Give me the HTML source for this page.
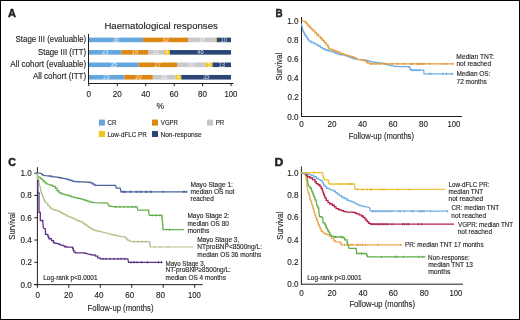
<!DOCTYPE html>
<html><head><meta charset="utf-8"><style>
html,body{margin:0;padding:0;background:#fff;}
body{width:520px;height:320px;overflow:hidden;}
svg{display:block;will-change:transform;}
svg text{font-family:"Liberation Sans", sans-serif;stroke:#231f20;stroke-width:0.14px;paint-order:stroke;}
svg text[fill="#ffffff"]{stroke:none;}
</style></head><body>
<svg width="520" height="320" viewBox="0 0 520 320" fill="#231f20">
<rect x="0" y="0" width="520" height="320" fill="#fff"/>
<text x="8.07" y="16.75" font-size="11.7" textLength="7.98" lengthAdjust="spacingAndGlyphs" font-weight="bold" style="stroke-width:0.5px">A</text>
<text x="104.43" y="29.00" font-size="9.4" textLength="113.40" lengthAdjust="spacingAndGlyphs">Haematological responses</text>
<rect x="88.80" y="37.60" width="54.07" height="4.60" fill="#64a6de"/>
<text x="112.63" y="41.90" font-size="6.8" textLength="6.43" lengthAdjust="spacingAndGlyphs" fill="#ffffff" opacity="0.8">38</text>
<rect x="142.87" y="37.60" width="45.54" height="4.60" fill="#dc8711"/>
<text x="162.46" y="41.90" font-size="6.8" textLength="6.43" lengthAdjust="spacingAndGlyphs" fill="#ffffff" opacity="0.8">32</text>
<rect x="188.41" y="37.60" width="27.04" height="4.60" fill="#c8c8cc"/>
<text x="198.63" y="41.90" font-size="6.8" textLength="6.43" lengthAdjust="spacingAndGlyphs" fill="#ffffff" opacity="0.8">19</text>
<rect x="215.45" y="37.60" width="1.42" height="4.60" fill="#f2c318"/>
<rect x="216.87" y="37.60" width="14.13" height="4.60" fill="#2a4677"/>
<text x="220.61" y="41.90" font-size="6.8" textLength="6.43" lengthAdjust="spacingAndGlyphs" fill="#ffffff" opacity="0.8">10</text>
<rect x="88.80" y="50.05" width="32.73" height="4.60" fill="#64a6de"/>
<text x="101.93" y="54.35" font-size="6.8" textLength="6.43" lengthAdjust="spacingAndGlyphs" fill="#ffffff" opacity="0.8">23</text>
<rect x="121.53" y="50.05" width="27.04" height="4.60" fill="#dc8711"/>
<text x="131.75" y="54.35" font-size="6.8" textLength="6.43" lengthAdjust="spacingAndGlyphs" fill="#ffffff" opacity="0.8">19</text>
<rect x="148.57" y="50.05" width="15.65" height="4.60" fill="#c8c8cc"/>
<text x="153.31" y="54.35" font-size="6.8" textLength="6.00" lengthAdjust="spacingAndGlyphs" fill="#ffffff" opacity="0.8">11</text>
<rect x="164.22" y="50.05" width="5.69" height="4.60" fill="#f2c318"/>
<text x="165.49" y="54.35" font-size="6.8" textLength="3.21" lengthAdjust="spacingAndGlyphs" fill="#ffffff" opacity="0.8">4</text>
<rect x="169.91" y="50.05" width="61.09" height="4.60" fill="#2a4677"/>
<text x="197.31" y="54.35" font-size="6.8" textLength="6.43" lengthAdjust="spacingAndGlyphs" fill="#ffffff" opacity="0.8">46</text>
<rect x="88.80" y="62.50" width="49.80" height="4.60" fill="#64a6de"/>
<text x="110.49" y="66.80" font-size="6.8" textLength="6.43" lengthAdjust="spacingAndGlyphs" fill="#ffffff" opacity="0.8">35</text>
<rect x="138.60" y="62.50" width="38.42" height="4.60" fill="#dc8711"/>
<text x="154.61" y="66.80" font-size="6.8" textLength="6.43" lengthAdjust="spacingAndGlyphs" fill="#ffffff" opacity="0.8">27</text>
<rect x="177.03" y="62.50" width="28.46" height="4.60" fill="#c8c8cc"/>
<text x="188.00" y="66.80" font-size="6.8" textLength="6.43" lengthAdjust="spacingAndGlyphs" fill="#ffffff" opacity="0.8">20</text>
<rect x="205.49" y="62.50" width="7.12" height="4.60" fill="#f2c318"/>
<text x="207.44" y="66.80" font-size="6.8" textLength="3.21" lengthAdjust="spacingAndGlyphs" fill="#ffffff" opacity="0.8">5</text>
<rect x="212.60" y="62.50" width="18.40" height="4.60" fill="#2a4677"/>
<text x="218.49" y="66.80" font-size="6.8" textLength="6.43" lengthAdjust="spacingAndGlyphs" fill="#ffffff" opacity="0.8">13</text>
<rect x="88.80" y="74.95" width="35.58" height="4.60" fill="#64a6de"/>
<text x="103.35" y="79.25" font-size="6.8" textLength="6.43" lengthAdjust="spacingAndGlyphs" fill="#ffffff" opacity="0.8">25</text>
<rect x="124.38" y="74.95" width="28.46" height="4.60" fill="#dc8711"/>
<text x="135.35" y="79.25" font-size="6.8" textLength="6.43" lengthAdjust="spacingAndGlyphs" fill="#ffffff" opacity="0.8">20</text>
<rect x="152.84" y="74.95" width="22.77" height="4.60" fill="#c8c8cc"/>
<text x="160.91" y="79.25" font-size="6.8" textLength="6.43" lengthAdjust="spacingAndGlyphs" fill="#ffffff" opacity="0.8">16</text>
<rect x="175.60" y="74.95" width="5.69" height="4.60" fill="#f2c318"/>
<text x="176.87" y="79.25" font-size="6.8" textLength="3.21" lengthAdjust="spacingAndGlyphs" fill="#ffffff" opacity="0.8">4</text>
<rect x="181.30" y="74.95" width="49.70" height="4.60" fill="#2a4677"/>
<text x="202.94" y="79.25" font-size="6.8" textLength="6.43" lengthAdjust="spacingAndGlyphs" fill="#ffffff" opacity="0.8">35</text>
<text x="15.54" y="42.10" font-size="8.6" textLength="70.67" lengthAdjust="spacingAndGlyphs">Stage III (evaluable)</text>
<text x="38.05" y="54.50" font-size="8.6" textLength="48.14" lengthAdjust="spacingAndGlyphs">Stage III (ITT)</text>
<text x="10.30" y="66.90" font-size="8.6" textLength="75.92" lengthAdjust="spacingAndGlyphs">All cohort (evaluable)</text>
<text x="32.90" y="79.30" font-size="8.6" textLength="53.30" lengthAdjust="spacingAndGlyphs">All cohort (ITT)</text>
<line x1="88.5" y1="34" x2="88.5" y2="84" stroke="#231f20" stroke-width="1"/>
<line x1="88" y1="83.5" x2="233.5" y2="83.5" stroke="#231f20" stroke-width="1"/>
<line x1="88.8" y1="83.5" x2="88.8" y2="86.2" stroke="#231f20" stroke-width="1"/>
<text x="86.53" y="96.50" font-size="9.0" textLength="4.50" lengthAdjust="spacingAndGlyphs">0</text>
<line x1="117.26" y1="83.5" x2="117.26" y2="86.2" stroke="#231f20" stroke-width="1"/>
<text x="112.70" y="96.50" font-size="9.0" textLength="9.01" lengthAdjust="spacingAndGlyphs">20</text>
<line x1="145.72" y1="83.5" x2="145.72" y2="86.2" stroke="#231f20" stroke-width="1"/>
<text x="141.29" y="96.50" font-size="9.0" textLength="9.01" lengthAdjust="spacingAndGlyphs">40</text>
<line x1="174.18" y1="83.5" x2="174.18" y2="86.2" stroke="#231f20" stroke-width="1"/>
<text x="169.62" y="96.50" font-size="9.0" textLength="9.01" lengthAdjust="spacingAndGlyphs">60</text>
<line x1="202.64" y1="83.5" x2="202.64" y2="86.2" stroke="#231f20" stroke-width="1"/>
<text x="198.10" y="96.50" font-size="9.0" textLength="9.01" lengthAdjust="spacingAndGlyphs">80</text>
<line x1="231.1" y1="83.5" x2="231.1" y2="86.2" stroke="#231f20" stroke-width="1"/>
<text x="224.52" y="96.50" font-size="9.0" textLength="12.88" lengthAdjust="spacingAndGlyphs">100</text>
<text x="156.42" y="109.00" font-size="8.5" textLength="7.56" lengthAdjust="spacingAndGlyphs">%</text>
<rect x="98.90" y="119.60" width="6.00" height="6.00" fill="#64a6de"/>
<text x="107.59" y="125.30" font-size="7" textLength="8.91" lengthAdjust="spacingAndGlyphs">CR</text>
<rect x="152.00" y="119.60" width="6.00" height="6.00" fill="#dc8711"/>
<text x="160.87" y="125.30" font-size="7" textLength="17.13" lengthAdjust="spacingAndGlyphs">VGPR</text>
<rect x="207.00" y="119.60" width="6.00" height="6.00" fill="#c8c8cc"/>
<text x="215.81" y="125.30" font-size="7" textLength="8.49" lengthAdjust="spacingAndGlyphs">PR</text>
<rect x="98.90" y="131.00" width="6.00" height="6.00" fill="#f2c318"/>
<text x="107.40" y="136.70" font-size="7" textLength="39.28" lengthAdjust="spacingAndGlyphs">Low-dFLC PR</text>
<rect x="152.00" y="131.00" width="6.00" height="6.00" fill="#2a4677"/>
<text x="160.47" y="136.70" font-size="7" textLength="41.23" lengthAdjust="spacingAndGlyphs">Non-response</text>
<text x="275.51" y="16.55" font-size="11.7" textLength="7.10" lengthAdjust="spacingAndGlyphs" font-weight="bold" style="stroke-width:0.5px">B</text>
<line x1="301.5" y1="17" x2="301.5" y2="117" stroke="#231f20" stroke-width="1"/>
<line x1="301" y1="116.5" x2="462" y2="116.5" stroke="#231f20" stroke-width="1"/>
<text x="287.32" y="119.50" font-size="9.0" textLength="11.26" lengthAdjust="spacingAndGlyphs">0.0</text>
<text x="299.23" y="126.60" font-size="9.0" textLength="4.50" lengthAdjust="spacingAndGlyphs">0</text>
<text x="287.45" y="100.30" font-size="9.0" textLength="11.26" lengthAdjust="spacingAndGlyphs">0.2</text>
<text x="327.44" y="126.60" font-size="9.0" textLength="9.01" lengthAdjust="spacingAndGlyphs">20</text>
<text x="287.28" y="81.10" font-size="9.0" textLength="11.26" lengthAdjust="spacingAndGlyphs">0.4</text>
<text x="358.07" y="126.60" font-size="9.0" textLength="9.01" lengthAdjust="spacingAndGlyphs">40</text>
<text x="287.37" y="61.90" font-size="9.0" textLength="11.26" lengthAdjust="spacingAndGlyphs">0.6</text>
<text x="388.44" y="126.60" font-size="9.0" textLength="9.01" lengthAdjust="spacingAndGlyphs">60</text>
<text x="287.37" y="42.70" font-size="9.0" textLength="11.26" lengthAdjust="spacingAndGlyphs">0.8</text>
<text x="418.96" y="126.60" font-size="9.0" textLength="9.01" lengthAdjust="spacingAndGlyphs">80</text>
<text x="287.32" y="23.50" font-size="9.0" textLength="11.26" lengthAdjust="spacingAndGlyphs">1.0</text>
<text x="447.42" y="126.60" font-size="9.0" textLength="12.88" lengthAdjust="spacingAndGlyphs">100</text>
<text x="348.69" y="139.30" font-size="9.6" textLength="65.29" lengthAdjust="spacingAndGlyphs">Follow-up (months)</text>
<text x="0" y="0" font-size="9.6" text-anchor="middle" transform="translate(281.9,66.7) rotate(-90)" textLength="27.67" lengthAdjust="spacingAndGlyphs">Survival</text>
<path d="M301.50,23.50 L301.75,25.40 L302.20,26.80 L302.70,30.00 L302.70,30.75 L303.60,30.75 L303.60,31.50 L303.60,32.90 L304.60,32.90 L304.60,34.30 L304.60,35.00 L306.00,35.00 L306.00,35.70 L306.00,36.85 L307.40,36.85 L307.40,38.00 L307.40,39.20 L308.80,39.20 L308.80,40.40 L308.80,41.10 L311.10,41.10 L311.10,41.80 L311.10,42.50 L314.00,42.50 L314.00,43.20 L314.00,43.90 L316.75,43.90 L316.75,44.60 L316.75,45.05 L318.60,45.05 L318.60,45.50 L318.60,46.23 L320.55,46.23 L320.55,47.67 L322.50,47.67 L322.50,48.40 L322.50,48.77 L324.37,48.77 L324.37,49.50 L326.23,49.50 L326.23,50.23 L328.10,50.23 L328.10,50.60 L328.10,50.85 L329.98,50.85 L329.98,51.35 L331.87,51.35 L331.87,51.85 L333.75,51.85 L333.75,52.10 L333.75,52.48 L335.63,52.48 L335.63,53.25 L337.52,53.25 L337.52,54.02 L339.40,54.02 L339.40,54.40 L339.40,54.55 L341.27,54.55 L341.27,54.85 L343.13,54.85 L343.13,55.15 L345.00,55.15 L345.00,55.30 L345.00,55.67 L346.98,55.67 L346.98,56.42 L348.95,56.42 L348.95,57.17 L350.92,57.17 L350.92,57.92 L352.90,57.92 L352.90,58.30 L352.90,58.57 L354.95,58.57 L354.95,59.12 L357.00,59.12 L357.00,59.40 L366.00,60.00 L366.00,60.30 L367.80,60.30 L367.80,60.90 L369.60,60.90 L369.60,61.20 L373.00,62.00 L373.00,62.11 L374.75,62.11 L374.75,62.34 L376.50,62.34 L376.50,62.56 L378.25,62.56 L378.25,62.79 L380.00,62.79 L380.00,62.90 L384.60,63.50 L384.60,63.92 L386.90,63.92 L386.90,64.78 L389.20,64.78 L389.20,65.20 L389.20,65.42 L391.50,65.42 L391.50,65.88 L393.80,65.88 L393.80,66.10 L398.50,66.70 L409.20,66.70 L409.20,67.58 L410.10,67.58 L410.10,69.33 L411.00,69.33 L411.00,70.20 L423.70,70.20 L424.00,73.80 L453.60,73.80" fill="none" stroke="#70ade3" stroke-width="1.3" stroke-linejoin="miter" opacity="1"/>
<path d="M301.60,20.70 L304.60,21.20 L304.60,21.90 L306.40,21.90 L306.40,22.60 L306.40,23.50 L307.40,23.50 L307.40,24.40 L307.40,25.35 L309.25,25.35 L309.25,26.30 L309.25,27.25 L311.10,27.25 L311.10,28.20 L311.10,29.10 L313.00,29.10 L313.00,30.00 L313.00,30.95 L314.90,30.95 L314.90,31.90 L314.90,32.85 L316.75,32.85 L316.75,33.80 L316.75,34.75 L318.60,34.75 L318.60,35.70 L318.60,36.65 L320.50,36.65 L320.50,37.60 L320.50,38.50 L322.40,38.50 L322.40,39.40 L322.40,40.35 L324.25,40.35 L324.25,41.30 L324.25,42.70 L326.10,42.70 L326.10,44.10 L326.10,44.80 L328.00,44.80 L328.00,45.50 L328.00,46.95 L329.00,46.95 L329.00,48.40 L329.00,49.05 L331.90,49.05 L331.90,49.70 L331.90,50.02 L333.77,50.02 L333.77,50.65 L335.63,50.65 L335.63,51.28 L337.50,51.28 L337.50,51.60 L337.50,52.00 L339.37,52.00 L339.37,52.80 L341.23,52.80 L341.23,53.60 L343.10,53.60 L343.10,54.00 L343.10,54.32 L344.98,54.32 L344.98,54.95 L346.87,54.95 L346.87,55.58 L348.75,55.58 L348.75,55.90 L348.75,56.12 L351.12,56.12 L351.12,56.57 L353.50,56.57 L353.50,56.80 L353.50,57.70 L355.80,57.70 L355.80,58.60 L358.00,59.40 L363.80,60.00 L363.80,60.52 L365.55,60.52 L365.55,61.58 L367.30,61.58 L367.30,62.10 L367.30,63.00 L369.60,63.00 L369.60,63.90 L453.60,63.90" fill="none" stroke="#e49c3c" stroke-width="1.3" stroke-linejoin="miter" opacity="1"/>
<line x1="412.00" y1="69.10" x2="412.00" y2="71.30" stroke="#5a9ad6" stroke-width="0.8"/>
<line x1="414.00" y1="69.10" x2="414.00" y2="71.30" stroke="#5a9ad6" stroke-width="0.8"/>
<line x1="416.00" y1="69.10" x2="416.00" y2="71.30" stroke="#5a9ad6" stroke-width="0.8"/>
<line x1="418.00" y1="69.10" x2="418.00" y2="71.30" stroke="#5a9ad6" stroke-width="0.8"/>
<line x1="420.00" y1="69.10" x2="420.00" y2="71.30" stroke="#5a9ad6" stroke-width="0.8"/>
<line x1="429.00" y1="72.70" x2="429.00" y2="74.90" stroke="#5a9ad6" stroke-width="0.8"/>
<line x1="431.00" y1="72.70" x2="431.00" y2="74.90" stroke="#5a9ad6" stroke-width="0.8"/>
<line x1="443.00" y1="72.70" x2="443.00" y2="74.90" stroke="#5a9ad6" stroke-width="0.8"/>
<line x1="446.50" y1="72.70" x2="446.50" y2="74.90" stroke="#5a9ad6" stroke-width="0.8"/>
<line x1="452.00" y1="72.70" x2="452.00" y2="74.90" stroke="#5a9ad6" stroke-width="0.8"/>
<line x1="372.00" y1="62.80" x2="372.00" y2="65.00" stroke="#d88820" stroke-width="0.8"/>
<line x1="376.00" y1="62.80" x2="376.00" y2="65.00" stroke="#d88820" stroke-width="0.8"/>
<line x1="380.00" y1="62.80" x2="380.00" y2="65.00" stroke="#d88820" stroke-width="0.8"/>
<line x1="385.00" y1="62.80" x2="385.00" y2="65.00" stroke="#d88820" stroke-width="0.8"/>
<line x1="392.00" y1="62.80" x2="392.00" y2="65.00" stroke="#d88820" stroke-width="0.8"/>
<line x1="398.00" y1="62.80" x2="398.00" y2="65.00" stroke="#d88820" stroke-width="0.8"/>
<line x1="404.00" y1="62.80" x2="404.00" y2="65.00" stroke="#d88820" stroke-width="0.8"/>
<line x1="411.00" y1="62.80" x2="411.00" y2="65.00" stroke="#d88820" stroke-width="0.8"/>
<line x1="412.40" y1="62.80" x2="412.40" y2="65.00" stroke="#d88820" stroke-width="0.8"/>
<line x1="416.70" y1="62.80" x2="416.70" y2="65.00" stroke="#d88820" stroke-width="0.8"/>
<line x1="418.20" y1="62.80" x2="418.20" y2="65.00" stroke="#d88820" stroke-width="0.8"/>
<line x1="419.60" y1="62.80" x2="419.60" y2="65.00" stroke="#d88820" stroke-width="0.8"/>
<line x1="421.00" y1="62.80" x2="421.00" y2="65.00" stroke="#d88820" stroke-width="0.8"/>
<line x1="422.50" y1="62.80" x2="422.50" y2="65.00" stroke="#d88820" stroke-width="0.8"/>
<line x1="424.00" y1="62.80" x2="424.00" y2="65.00" stroke="#d88820" stroke-width="0.8"/>
<line x1="429.70" y1="62.80" x2="429.70" y2="65.00" stroke="#d88820" stroke-width="0.8"/>
<line x1="443.20" y1="62.80" x2="443.20" y2="65.00" stroke="#d88820" stroke-width="0.8"/>
<line x1="446.50" y1="62.80" x2="446.50" y2="65.00" stroke="#d88820" stroke-width="0.8"/>
<line x1="452.80" y1="62.80" x2="452.80" y2="65.00" stroke="#d88820" stroke-width="0.8"/>
<text x="456.37" y="58.80" font-size="7.0" textLength="37.74" lengthAdjust="spacingAndGlyphs">Median TNT:</text>
<text x="456.47" y="66.10" font-size="7.0" textLength="34.67" lengthAdjust="spacingAndGlyphs">not reached</text>
<text x="456.38" y="75.70" font-size="7.0" textLength="34.10" lengthAdjust="spacingAndGlyphs">Median OS:</text>
<text x="456.58" y="83.80" font-size="7.0" textLength="30.15" lengthAdjust="spacingAndGlyphs">72 months</text>
<text x="8.33" y="166.35" font-size="11.7" textLength="7.61" lengthAdjust="spacingAndGlyphs" font-weight="bold" style="stroke-width:0.5px">C</text>
<line x1="37.4" y1="167.2" x2="37.4" y2="285.2" stroke="#231f20" stroke-width="1"/>
<line x1="34.3" y1="284.65" x2="202.7" y2="284.65" stroke="#231f20" stroke-width="1"/>
<line x1="34.3" y1="284.65" x2="37.4" y2="284.65" stroke="#231f20" stroke-width="1"/>
<text x="20.52" y="287.65" font-size="9.0" textLength="11.26" lengthAdjust="spacingAndGlyphs">0.0</text>
<line x1="37.4" y1="284.65" x2="37.4" y2="287.8" stroke="#231f20" stroke-width="1"/>
<text x="35.43" y="297.80" font-size="9.0" textLength="4.50" lengthAdjust="spacingAndGlyphs">0</text>
<line x1="34.3" y1="262.35" x2="37.4" y2="262.35" stroke="#231f20" stroke-width="1"/>
<text x="20.65" y="265.35" font-size="9.0" textLength="11.26" lengthAdjust="spacingAndGlyphs">0.2</text>
<line x1="68.85" y1="284.65" x2="68.85" y2="287.8" stroke="#231f20" stroke-width="1"/>
<text x="63.94" y="297.80" font-size="9.0" textLength="9.01" lengthAdjust="spacingAndGlyphs">20</text>
<line x1="34.3" y1="240.05" x2="37.4" y2="240.05" stroke="#231f20" stroke-width="1"/>
<text x="20.48" y="243.05" font-size="9.0" textLength="11.26" lengthAdjust="spacingAndGlyphs">0.4</text>
<line x1="100.3" y1="284.65" x2="100.3" y2="287.8" stroke="#231f20" stroke-width="1"/>
<text x="94.57" y="297.80" font-size="9.0" textLength="9.01" lengthAdjust="spacingAndGlyphs">40</text>
<line x1="34.3" y1="217.75" x2="37.4" y2="217.75" stroke="#231f20" stroke-width="1"/>
<text x="20.56" y="220.75" font-size="9.0" textLength="11.26" lengthAdjust="spacingAndGlyphs">0.6</text>
<line x1="131.75" y1="284.65" x2="131.75" y2="287.8" stroke="#231f20" stroke-width="1"/>
<text x="125.24" y="297.80" font-size="9.0" textLength="9.01" lengthAdjust="spacingAndGlyphs">60</text>
<line x1="34.3" y1="195.45" x2="37.4" y2="195.45" stroke="#231f20" stroke-width="1"/>
<text x="20.56" y="198.45" font-size="9.0" textLength="11.26" lengthAdjust="spacingAndGlyphs">0.8</text>
<line x1="163.2" y1="284.65" x2="163.2" y2="287.8" stroke="#231f20" stroke-width="1"/>
<text x="156.06" y="297.80" font-size="9.0" textLength="9.01" lengthAdjust="spacingAndGlyphs">80</text>
<line x1="34.3" y1="173.15" x2="37.4" y2="173.15" stroke="#231f20" stroke-width="1"/>
<text x="20.52" y="176.15" font-size="9.0" textLength="11.26" lengthAdjust="spacingAndGlyphs">1.0</text>
<line x1="194.65" y1="284.65" x2="194.65" y2="287.8" stroke="#231f20" stroke-width="1"/>
<text x="188.02" y="297.80" font-size="9.0" textLength="12.88" lengthAdjust="spacingAndGlyphs">100</text>
<text x="87.58" y="311.00" font-size="9.6" textLength="65.90" lengthAdjust="spacingAndGlyphs">Follow-up (months)</text>
<text x="0" y="0" font-size="9.6" text-anchor="middle" transform="translate(15.4,226) rotate(-90)" textLength="27.57" lengthAdjust="spacingAndGlyphs">Survival</text>
<text x="43.28" y="280.10" font-size="6.8" textLength="54.23" lengthAdjust="spacingAndGlyphs">Log-rank p&lt;0.0001</text>
<path d="M37.40,172.80 L39.00,173.10 L40.90,173.40 L42.10,174.10 L42.10,174.70 L43.00,174.70 L43.00,175.30 L45.25,175.60 L49.00,175.75 L49.00,176.00 L50.88,176.00 L50.88,176.50 L52.75,176.50 L52.75,176.75 L59.00,177.25 L59.00,177.75 L61.50,177.75 L61.50,178.25 L66.50,178.90 L66.50,179.20 L68.38,179.20 L68.38,179.80 L70.25,179.80 L70.25,180.10 L70.25,180.45 L72.12,180.45 L72.12,181.15 L74.00,181.15 L74.00,181.50 L74.00,181.55 L76.03,181.55 L76.03,181.65 L78.05,181.65 L78.05,181.75 L80.08,181.75 L80.08,181.85 L82.10,181.85 L82.10,181.95 L84.12,181.95 L84.12,182.05 L86.15,182.05 L86.15,182.15 L88.17,182.15 L88.17,182.25 L90.20,182.25 L90.20,182.30 L90.20,182.90 L92.50,182.90 L92.50,183.50 L92.50,183.97 L94.00,183.97 L94.00,184.93 L95.50,184.93 L95.50,185.40 L115.50,185.40 L116.30,188.20 L120.20,188.20 L121.00,191.80 L187.40,191.80" fill="none" stroke="#4a64a0" stroke-width="1.3" stroke-linejoin="miter" opacity="1"/>
<path d="M37.10,173.30 L37.75,176.25 L39.00,176.90 L39.00,177.35 L40.25,177.35 L40.25,177.80 L40.25,178.28 L41.50,178.28 L41.50,178.75 L41.50,179.38 L42.75,179.38 L42.75,180.00 L42.75,180.62 L44.00,180.62 L44.00,181.25 L44.00,182.18 L45.90,182.18 L45.90,183.10 L45.90,183.55 L47.10,183.55 L47.10,184.00 L50.00,184.70 L50.00,185.22 L52.75,185.22 L52.75,185.75 L52.75,186.38 L55.25,186.38 L55.25,187.00 L55.25,188.25 L57.10,188.25 L57.10,189.50 L57.10,190.75 L59.00,190.75 L59.00,192.00 L59.00,192.62 L60.90,192.62 L60.90,193.25 L60.90,193.56 L62.45,193.56 L62.45,194.19 L64.00,194.19 L64.00,194.50 L67.75,195.10 L67.75,195.43 L69.62,195.43 L69.62,196.07 L71.50,196.07 L71.50,196.40 L71.50,196.90 L74.00,196.90 L74.00,197.40 L74.00,197.58 L76.07,197.58 L76.07,197.95 L78.13,197.95 L78.13,198.32 L80.20,198.32 L80.20,198.50 L80.20,198.88 L82.50,198.88 L82.50,199.62 L84.80,199.62 L84.80,200.00 L84.80,200.38 L87.10,200.38 L87.10,201.12 L89.40,201.12 L89.40,201.50 L89.40,201.78 L91.70,201.78 L91.70,202.32 L94.00,202.32 L94.00,202.60 L107.80,203.10 L108.60,205.70 L108.60,205.90 L110.40,205.90 L110.40,206.30 L112.20,206.30 L112.20,206.70 L114.00,206.70 L114.00,206.90 L137.10,206.90 L137.80,210.10 L148.60,210.10 L149.20,215.40 L161.90,215.40 L161.90,216.42 L162.07,216.42 L162.07,218.46 L162.24,218.46 L162.24,220.51 L162.41,220.51 L162.41,222.55 L162.59,222.55 L162.59,224.59 L162.76,224.59 L162.76,226.64 L162.93,226.64 L162.93,228.68 L163.10,228.68 L163.10,229.70 L183.80,229.70" fill="none" stroke="#66b24c" stroke-width="1.3" stroke-linejoin="miter" opacity="1"/>
<path d="M37.40,173.30 L37.60,179.40 L38.70,179.40 L39.00,182.50 L39.60,185.60 L40.25,186.90 L40.60,190.00 L40.60,190.75 L41.05,190.75 L41.05,192.25 L41.50,192.25 L41.50,193.00 L41.50,194.25 L42.45,194.25 L42.45,196.75 L43.40,196.75 L43.40,198.00 L43.40,198.94 L44.33,198.94 L44.33,200.81 L45.25,200.81 L45.25,201.75 L45.25,203.00 L47.75,203.00 L47.75,204.25 L47.75,205.50 L49.60,205.50 L49.60,206.75 L49.60,207.82 L51.50,207.82 L51.50,208.90 L51.50,209.20 L53.38,209.20 L53.38,209.80 L55.25,209.80 L55.25,210.10 L55.25,210.32 L57.12,210.32 L57.12,210.78 L59.00,210.78 L59.00,211.00 L59.00,211.45 L60.25,211.45 L60.25,211.90 L60.25,212.36 L62.12,212.36 L62.12,213.29 L64.00,213.29 L64.00,213.75 L64.00,214.68 L66.50,214.68 L66.50,215.60 L66.50,215.93 L68.38,215.93 L68.38,216.57 L70.25,216.57 L70.25,216.90 L70.25,217.30 L72.12,217.30 L72.12,218.10 L74.00,218.10 L74.00,218.50 L74.00,218.97 L75.55,218.97 L75.55,219.93 L77.10,219.93 L77.10,220.40 L77.10,220.70 L79.40,220.70 L79.40,221.30 L81.70,221.30 L81.70,221.60 L81.70,222.25 L83.25,222.25 L83.25,223.55 L84.80,223.55 L84.80,224.20 L84.80,224.97 L87.10,224.97 L87.10,226.53 L89.40,226.53 L89.40,227.30 L89.40,228.03 L91.70,228.03 L91.70,229.47 L94.00,229.47 L94.00,230.20 L94.00,230.42 L96.07,230.42 L96.07,230.85 L98.13,230.85 L98.13,231.28 L100.20,231.28 L100.20,231.50 L100.20,231.75 L102.23,231.75 L102.23,232.25 L104.27,232.25 L104.27,232.75 L106.30,232.75 L106.30,233.00 L106.30,233.27 L108.37,233.27 L108.37,233.80 L110.43,233.80 L110.43,234.33 L112.50,234.33 L112.50,234.60 L112.50,234.87 L114.53,234.87 L114.53,235.40 L116.57,235.40 L116.57,235.93 L118.60,235.93 L118.60,236.20 L124.80,236.90 L124.80,237.68 L126.30,237.68 L126.30,239.22 L127.80,239.22 L127.80,240.00 L127.80,240.43 L129.75,240.43 L129.75,241.27 L131.70,241.27 L131.70,241.70 L149.50,241.70 L149.50,242.58 L149.80,242.58 L149.80,244.35 L150.10,244.35 L150.10,246.12 L150.40,246.12 L150.40,247.00 L193.20,247.00" fill="none" stroke="#b2c38c" stroke-width="1.2" stroke-linejoin="miter" opacity="1"/>
<path d="M37.90,179.50 L37.90,193.00 L39.00,193.00 L39.00,212.40 L40.30,212.40 L40.30,220.50 L42.80,220.50 L42.80,222.50 L43.40,228.10 L45.25,228.75 L45.50,233.75 L45.50,234.38 L47.75,234.38 L47.75,235.00 L47.75,235.78 L48.38,235.78 L48.38,237.32 L49.00,237.32 L49.00,238.10 L49.00,238.75 L51.50,238.75 L51.50,239.40 L51.50,240.65 L53.40,240.65 L53.40,241.90 L53.40,242.50 L54.60,242.50 L54.60,243.10 L58.60,243.50 L58.60,244.20 L60.20,244.20 L60.20,244.90 L63.20,245.40 L63.20,245.85 L64.75,245.85 L64.75,246.75 L66.30,246.75 L66.30,247.20 L72.50,247.20 L72.50,248.27 L73.25,248.27 L73.25,250.43 L74.00,250.43 L74.00,251.50 L74.00,252.15 L75.50,252.15 L75.50,252.80 L84.80,252.80 L84.80,253.30 L87.00,253.30 L87.00,253.80 L90.90,254.60 L90.90,254.80 L93.20,254.80 L93.20,255.20 L95.50,255.20 L95.50,255.40 L95.50,256.15 L97.80,256.15 L97.80,256.90 L97.80,257.90 L100.20,257.90 L100.20,258.90 L127.80,258.90 L128.60,262.30 L162.50,262.30" fill="none" stroke="#5e3289" stroke-width="1.3" stroke-linejoin="miter" opacity="1"/>
<line x1="122.00" y1="190.70" x2="122.00" y2="192.90" stroke="#3a5494" stroke-width="0.8"/>
<line x1="123.40" y1="190.70" x2="123.40" y2="192.90" stroke="#3a5494" stroke-width="0.8"/>
<line x1="124.70" y1="190.70" x2="124.70" y2="192.90" stroke="#3a5494" stroke-width="0.8"/>
<line x1="126.00" y1="190.70" x2="126.00" y2="192.90" stroke="#3a5494" stroke-width="0.8"/>
<line x1="130.00" y1="190.70" x2="130.00" y2="192.90" stroke="#3a5494" stroke-width="0.8"/>
<line x1="130.80" y1="190.70" x2="130.80" y2="192.90" stroke="#3a5494" stroke-width="0.8"/>
<line x1="136.00" y1="190.70" x2="136.00" y2="192.90" stroke="#3a5494" stroke-width="0.8"/>
<line x1="137.50" y1="190.70" x2="137.50" y2="192.90" stroke="#3a5494" stroke-width="0.8"/>
<line x1="140.00" y1="190.70" x2="140.00" y2="192.90" stroke="#3a5494" stroke-width="0.8"/>
<line x1="141.50" y1="190.70" x2="141.50" y2="192.90" stroke="#3a5494" stroke-width="0.8"/>
<line x1="145.60" y1="190.70" x2="145.60" y2="192.90" stroke="#3a5494" stroke-width="0.8"/>
<line x1="147.00" y1="190.70" x2="147.00" y2="192.90" stroke="#3a5494" stroke-width="0.8"/>
<line x1="150.30" y1="190.70" x2="150.30" y2="192.90" stroke="#3a5494" stroke-width="0.8"/>
<line x1="151.70" y1="190.70" x2="151.70" y2="192.90" stroke="#3a5494" stroke-width="0.8"/>
<line x1="163.00" y1="190.70" x2="163.00" y2="192.90" stroke="#3a5494" stroke-width="0.8"/>
<line x1="183.30" y1="190.70" x2="183.30" y2="192.90" stroke="#3a5494" stroke-width="0.8"/>
<line x1="184.60" y1="190.70" x2="184.60" y2="192.90" stroke="#3a5494" stroke-width="0.8"/>
<line x1="186.60" y1="190.70" x2="186.60" y2="192.90" stroke="#3a5494" stroke-width="0.8"/>
<line x1="116.00" y1="205.80" x2="116.00" y2="208.00" stroke="#4e9e36" stroke-width="0.8"/>
<line x1="120.00" y1="205.80" x2="120.00" y2="208.00" stroke="#4e9e36" stroke-width="0.8"/>
<line x1="124.00" y1="205.80" x2="124.00" y2="208.00" stroke="#4e9e36" stroke-width="0.8"/>
<line x1="128.00" y1="205.80" x2="128.00" y2="208.00" stroke="#4e9e36" stroke-width="0.8"/>
<line x1="132.00" y1="205.80" x2="132.00" y2="208.00" stroke="#4e9e36" stroke-width="0.8"/>
<line x1="135.00" y1="205.80" x2="135.00" y2="208.00" stroke="#4e9e36" stroke-width="0.8"/>
<line x1="152.00" y1="214.30" x2="152.00" y2="216.50" stroke="#4e9e36" stroke-width="0.8"/>
<line x1="156.00" y1="214.30" x2="156.00" y2="216.50" stroke="#4e9e36" stroke-width="0.8"/>
<line x1="160.00" y1="214.30" x2="160.00" y2="216.50" stroke="#4e9e36" stroke-width="0.8"/>
<line x1="169.50" y1="228.60" x2="169.50" y2="230.80" stroke="#4e9e36" stroke-width="0.8"/>
<line x1="134.00" y1="240.60" x2="134.00" y2="242.80" stroke="#a3b87c" stroke-width="0.8"/>
<line x1="138.00" y1="240.60" x2="138.00" y2="242.80" stroke="#a3b87c" stroke-width="0.8"/>
<line x1="142.00" y1="240.60" x2="142.00" y2="242.80" stroke="#a3b87c" stroke-width="0.8"/>
<line x1="146.00" y1="240.60" x2="146.00" y2="242.80" stroke="#a3b87c" stroke-width="0.8"/>
<line x1="155.00" y1="245.90" x2="155.00" y2="248.10" stroke="#a3b87c" stroke-width="0.8"/>
<line x1="160.00" y1="245.90" x2="160.00" y2="248.10" stroke="#a3b87c" stroke-width="0.8"/>
<line x1="168.00" y1="245.90" x2="168.00" y2="248.10" stroke="#a3b87c" stroke-width="0.8"/>
<line x1="103.00" y1="257.80" x2="103.00" y2="260.00" stroke="#4a2070" stroke-width="0.8"/>
<line x1="106.00" y1="257.80" x2="106.00" y2="260.00" stroke="#4a2070" stroke-width="0.8"/>
<line x1="110.00" y1="257.80" x2="110.00" y2="260.00" stroke="#4a2070" stroke-width="0.8"/>
<line x1="114.00" y1="257.80" x2="114.00" y2="260.00" stroke="#4a2070" stroke-width="0.8"/>
<line x1="118.00" y1="257.80" x2="118.00" y2="260.00" stroke="#4a2070" stroke-width="0.8"/>
<line x1="121.00" y1="257.80" x2="121.00" y2="260.00" stroke="#4a2070" stroke-width="0.8"/>
<line x1="125.00" y1="257.80" x2="125.00" y2="260.00" stroke="#4a2070" stroke-width="0.8"/>
<line x1="131.00" y1="261.20" x2="131.00" y2="263.40" stroke="#4a2070" stroke-width="0.8"/>
<line x1="134.00" y1="261.20" x2="134.00" y2="263.40" stroke="#4a2070" stroke-width="0.8"/>
<line x1="137.00" y1="261.20" x2="137.00" y2="263.40" stroke="#4a2070" stroke-width="0.8"/>
<line x1="141.40" y1="261.20" x2="141.40" y2="263.40" stroke="#4a2070" stroke-width="0.8"/>
<line x1="147.40" y1="261.20" x2="147.40" y2="263.40" stroke="#4a2070" stroke-width="0.8"/>
<line x1="158.50" y1="261.20" x2="158.50" y2="263.40" stroke="#4a2070" stroke-width="0.8"/>
<line x1="161.50" y1="261.20" x2="161.50" y2="263.40" stroke="#4a2070" stroke-width="0.8"/>
<text x="190.47" y="186.70" font-size="7.0" textLength="42.44" lengthAdjust="spacingAndGlyphs">Mayo Stage 1:</text>
<text x="190.57" y="193.60" font-size="7.0" textLength="43.86" lengthAdjust="spacingAndGlyphs">median OS not</text>
<text x="190.58" y="201.40" font-size="7.0" textLength="23.12" lengthAdjust="spacingAndGlyphs">reached</text>
<text x="187.38" y="217.80" font-size="7.0" textLength="42.13" lengthAdjust="spacingAndGlyphs">Mayo Stage 2:</text>
<text x="187.48" y="225.60" font-size="7.0" textLength="41.36" lengthAdjust="spacingAndGlyphs">median OS 80</text>
<text x="187.47" y="232.90" font-size="7.0" textLength="21.86" lengthAdjust="spacingAndGlyphs">months</text>
<text x="197.18" y="241.80" font-size="7.0" textLength="42.10" lengthAdjust="spacingAndGlyphs">Mayo Stage 3,</text>
<text x="197.17" y="249.10" font-size="7.0" textLength="64.83" lengthAdjust="spacingAndGlyphs">NTproBNP&lt;8500ng/L:</text>
<text x="197.28" y="256.50" font-size="7.0" textLength="64.04" lengthAdjust="spacingAndGlyphs">median OS 36 months</text>
<text x="165.50" y="265.50" font-size="7.0" textLength="39.94" lengthAdjust="spacingAndGlyphs">Mayo Stage 3,</text>
<text x="165.48" y="272.40" font-size="7.0" textLength="65.43" lengthAdjust="spacingAndGlyphs">NT-proBNP≥8500ng/L:</text>
<text x="165.58" y="280.00" font-size="7.0" textLength="60.33" lengthAdjust="spacingAndGlyphs">median OS 4 months</text>
<text x="274.46" y="166.35" font-size="11.7" textLength="8.81" lengthAdjust="spacingAndGlyphs" font-weight="bold" style="stroke-width:0.5px">D</text>
<line x1="301.4" y1="166.5" x2="301.4" y2="284.7" stroke="#231f20" stroke-width="1"/>
<line x1="300.9" y1="284.2" x2="463" y2="284.2" stroke="#231f20" stroke-width="1"/>
<text x="287.22" y="287.20" font-size="9.0" textLength="11.26" lengthAdjust="spacingAndGlyphs">0.0</text>
<text x="299.13" y="295.50" font-size="9.0" textLength="4.50" lengthAdjust="spacingAndGlyphs">0</text>
<text x="287.35" y="264.90" font-size="9.0" textLength="11.26" lengthAdjust="spacingAndGlyphs">0.2</text>
<text x="327.44" y="295.50" font-size="9.0" textLength="9.01" lengthAdjust="spacingAndGlyphs">20</text>
<text x="287.18" y="242.60" font-size="9.0" textLength="11.26" lengthAdjust="spacingAndGlyphs">0.4</text>
<text x="358.57" y="295.50" font-size="9.0" textLength="9.01" lengthAdjust="spacingAndGlyphs">40</text>
<text x="287.26" y="220.30" font-size="9.0" textLength="11.26" lengthAdjust="spacingAndGlyphs">0.6</text>
<text x="388.74" y="295.50" font-size="9.0" textLength="9.01" lengthAdjust="spacingAndGlyphs">60</text>
<text x="287.26" y="198.00" font-size="9.0" textLength="11.26" lengthAdjust="spacingAndGlyphs">0.8</text>
<text x="419.66" y="295.50" font-size="9.0" textLength="9.01" lengthAdjust="spacingAndGlyphs">80</text>
<text x="287.22" y="175.70" font-size="9.0" textLength="11.26" lengthAdjust="spacingAndGlyphs">1.0</text>
<text x="449.42" y="295.50" font-size="9.0" textLength="12.88" lengthAdjust="spacingAndGlyphs">100</text>
<text x="349.39" y="307.40" font-size="9.6" textLength="65.60" lengthAdjust="spacingAndGlyphs">Follow-up (months)</text>
<text x="0" y="0" font-size="9.6" text-anchor="middle" transform="translate(282.8,225.8) rotate(-90)" textLength="27.88" lengthAdjust="spacingAndGlyphs">Survival</text>
<text x="307.28" y="280.10" font-size="6.8" textLength="54.23" lengthAdjust="spacingAndGlyphs">Log-rank p&lt;0.0001</text>
<path d="M301.40,172.60 L301.40,172.85 L303.20,172.85 L303.20,173.35 L305.00,173.35 L305.00,173.60 L305.00,174.39 L305.50,174.39 L305.50,175.96 L306.00,175.96 L306.00,176.75 L306.00,177.79 L306.30,177.79 L306.30,179.88 L306.60,179.88 L306.60,181.96 L306.90,181.96 L306.90,183.00 L307.50,189.25 L308.10,191.75 L308.10,192.54 L308.75,192.54 L308.75,194.11 L309.40,194.11 L309.40,194.90 L310.00,198.60 L310.00,199.45 L310.62,199.45 L310.62,201.15 L311.25,201.15 L311.25,202.00 L311.90,203.75 L311.90,204.69 L312.50,204.69 L312.50,206.56 L313.10,206.56 L313.10,207.50 L313.10,208.75 L313.75,208.75 L313.75,211.25 L314.40,211.25 L314.40,212.50 L314.40,213.44 L315.00,213.44 L315.00,215.31 L315.60,215.31 L315.60,216.25 L315.60,217.50 L316.55,217.50 L316.55,220.00 L317.50,220.00 L317.50,221.25 L317.50,222.50 L318.45,222.50 L318.45,225.00 L319.40,225.00 L319.40,226.25 L319.40,227.19 L320.32,227.19 L320.32,229.06 L321.25,229.06 L321.25,230.00 L321.25,231.25 L323.10,231.25 L323.10,232.50 L323.10,232.93 L324.65,232.93 L324.65,233.77 L326.20,233.77 L326.20,234.20 L326.20,234.40 L327.70,234.40 L327.70,234.80 L329.20,234.80 L329.20,235.00 L329.20,236.15 L331.50,236.15 L331.50,237.30 L331.50,238.45 L333.80,238.45 L333.80,239.60 L333.80,240.75 L335.40,240.75 L335.40,241.90 L340.00,241.90 L340.00,242.65 L340.75,242.65 L340.75,244.15 L341.50,244.15 L341.50,244.90 L401.60,244.90" fill="none" stroke="#ebaa52" stroke-width="1.3" stroke-linejoin="miter" opacity="1"/>
<path d="M301.40,172.60 L301.40,172.85 L303.50,172.85 L303.50,173.35 L305.60,173.35 L305.60,173.60 L305.60,174.55 L306.90,174.55 L306.90,175.50 L307.50,179.25 L308.10,184.25 L308.75,186.10 L310.00,186.75 L310.00,188.00 L311.25,188.00 L311.25,189.25 L311.25,190.04 L311.88,190.04 L311.88,191.61 L312.50,191.61 L312.50,192.40 L312.50,193.18 L313.12,193.18 L313.12,194.72 L313.75,194.72 L313.75,195.50 L313.75,196.28 L314.38,196.28 L314.38,197.82 L315.00,197.82 L315.00,198.60 L315.00,199.85 L316.25,199.85 L316.25,201.10 L316.90,205.00 L316.90,205.94 L317.82,205.94 L317.82,207.81 L318.75,207.81 L318.75,208.75 L319.40,216.25 L319.40,216.56 L320.95,216.56 L320.95,217.19 L322.50,217.19 L322.50,217.50 L323.10,221.90 L323.10,222.82 L325.00,222.82 L325.00,223.75 L325.00,224.54 L325.62,224.54 L325.62,226.11 L326.25,226.11 L326.25,226.90 L326.25,227.82 L327.18,227.82 L327.18,229.68 L328.10,229.68 L328.10,230.60 L328.10,231.39 L329.05,231.39 L329.05,232.96 L330.00,232.96 L330.00,233.75 L330.00,234.78 L331.20,234.78 L331.20,235.80 L331.20,236.40 L333.80,236.40 L333.80,237.00 L343.00,237.00 L343.00,237.90 L344.60,237.90 L344.60,238.80 L344.60,239.95 L346.90,239.95 L346.90,241.10 L346.90,242.00 L347.43,242.00 L347.43,243.80 L347.97,243.80 L347.97,245.60 L348.50,245.60 L348.50,246.50 L349.20,248.40 L356.20,248.40 L356.60,253.50 L366.20,253.50 L366.20,254.32 L366.95,254.32 L366.95,255.98 L367.70,255.98 L367.70,256.80 L425.50,256.80" fill="none" stroke="#62b048" stroke-width="1.3" stroke-linejoin="miter" opacity="1"/>
<path d="M301.40,172.60 L303.75,173.00 L303.75,173.62 L306.25,173.62 L306.25,174.25 L306.25,175.18 L307.50,175.18 L307.50,176.10 L307.50,176.75 L310.00,176.75 L310.00,177.40 L310.00,178.00 L312.50,178.00 L312.50,178.60 L312.50,179.55 L315.00,179.55 L315.00,180.50 L315.00,181.75 L316.25,181.75 L316.25,183.00 L316.25,183.55 L318.00,183.55 L318.00,184.10 L318.00,184.75 L319.90,184.75 L319.90,185.40 L319.90,186.32 L321.10,186.32 L321.10,187.25 L321.10,188.50 L322.40,188.50 L322.40,189.75 L322.40,190.69 L323.00,190.69 L323.00,192.56 L323.60,192.56 L323.60,193.50 L323.60,194.28 L324.25,194.28 L324.25,195.82 L324.90,195.82 L324.90,196.60 L324.90,197.85 L326.10,197.85 L326.10,199.10 L326.10,200.35 L328.00,200.35 L328.00,201.60 L328.00,202.55 L329.90,202.55 L329.90,203.50 L329.90,204.00 L332.40,204.00 L332.40,204.50 L332.40,205.25 L334.25,205.25 L334.25,206.00 L334.25,206.95 L336.10,206.95 L336.10,207.90 L336.10,208.70 L338.60,208.70 L338.60,209.50 L338.60,209.72 L340.18,209.72 L340.18,210.18 L341.75,210.18 L341.75,210.40 L341.75,210.70 L343.32,210.70 L343.32,211.30 L344.90,211.30 L344.90,211.60 L348.00,212.10 L353.40,212.10 L353.40,212.40 L355.00,212.40 L355.00,213.00 L356.60,213.00 L356.60,213.30 L356.60,213.80 L359.05,213.80 L359.05,214.80 L361.50,214.80 L361.50,215.30 L361.50,215.98 L363.15,215.98 L363.15,217.32 L364.80,217.32 L364.80,218.00 L364.80,218.78 L366.00,218.78 L366.00,220.32 L367.20,220.32 L367.20,221.10 L367.20,221.88 L368.75,221.88 L368.75,223.42 L370.30,223.42 L370.30,224.20 L454.20,224.20" fill="none" stroke="#b41e44" stroke-width="1.3" stroke-linejoin="miter" opacity="1"/>
<path d="M301.40,172.60 L301.40,172.85 L303.82,172.85 L303.82,173.35 L306.25,173.35 L306.25,173.60 L308.75,174.25 L311.25,174.90 L311.25,175.50 L313.75,175.50 L313.75,176.10 L313.75,176.75 L316.25,176.75 L316.25,177.40 L316.25,178.25 L318.00,178.25 L318.00,179.10 L320.50,179.75 L320.50,180.68 L322.40,180.68 L322.40,181.60 L322.40,182.85 L323.60,182.85 L323.60,184.10 L323.60,185.05 L324.90,185.05 L324.90,186.00 L324.90,186.95 L326.75,186.95 L326.75,187.90 L326.75,188.50 L329.25,188.50 L329.25,189.10 L331.75,189.75 L333.60,190.40 L333.60,191.00 L335.50,191.00 L335.50,191.60 L335.50,192.55 L337.40,192.55 L337.40,193.50 L337.40,194.12 L339.25,194.12 L339.25,194.75 L339.25,195.68 L341.75,195.68 L341.75,196.60 L341.75,197.25 L344.25,197.25 L344.25,197.90 L344.25,198.50 L346.75,198.50 L346.75,199.10 L346.75,199.75 L348.00,199.75 L348.00,200.40 L348.00,200.62 L349.95,200.62 L349.95,201.08 L351.90,201.08 L351.90,201.30 L351.90,201.83 L353.85,201.83 L353.85,202.88 L355.80,202.88 L355.80,203.40 L355.80,203.93 L357.65,203.93 L357.65,204.97 L359.50,204.97 L359.50,205.50 L359.50,205.72 L361.57,205.72 L361.57,206.15 L363.63,206.15 L363.63,206.58 L365.70,206.58 L365.70,206.80 L369.60,207.50 L370.40,211.20 L448.00,211.20" fill="none" stroke="#72b0e6" stroke-width="1.3" stroke-linejoin="miter" opacity="1"/>
<path d="M301.40,172.60 L322.50,172.60 L323.10,176.10 L323.10,177.05 L323.75,177.05 L323.75,178.95 L324.40,178.95 L324.40,179.90 L328.10,179.90 L328.10,180.93 L328.55,180.93 L328.55,182.97 L329.00,182.97 L329.00,184.00 L354.50,184.00 L355.00,189.40 L445.00,189.40" fill="none" stroke="#eec23a" stroke-width="1.3" stroke-linejoin="miter" opacity="1"/>
<line x1="313.75" y1="171.50" x2="313.75" y2="173.70" stroke="#e0b020" stroke-width="0.8"/>
<line x1="318.75" y1="171.50" x2="318.75" y2="173.70" stroke="#e0b020" stroke-width="0.8"/>
<line x1="341.00" y1="182.90" x2="341.00" y2="185.10" stroke="#e0b020" stroke-width="0.8"/>
<line x1="347.20" y1="182.90" x2="347.20" y2="185.10" stroke="#e0b020" stroke-width="0.8"/>
<line x1="348.75" y1="182.90" x2="348.75" y2="185.10" stroke="#e0b020" stroke-width="0.8"/>
<line x1="350.30" y1="182.90" x2="350.30" y2="185.10" stroke="#e0b020" stroke-width="0.8"/>
<line x1="351.90" y1="182.90" x2="351.90" y2="185.10" stroke="#e0b020" stroke-width="0.8"/>
<line x1="357.30" y1="188.30" x2="357.30" y2="190.50" stroke="#e0b020" stroke-width="0.8"/>
<line x1="362.80" y1="188.30" x2="362.80" y2="190.50" stroke="#e0b020" stroke-width="0.8"/>
<line x1="367.50" y1="188.30" x2="367.50" y2="190.50" stroke="#e0b020" stroke-width="0.8"/>
<line x1="370.60" y1="188.30" x2="370.60" y2="190.50" stroke="#e0b020" stroke-width="0.8"/>
<line x1="371.40" y1="188.30" x2="371.40" y2="190.50" stroke="#e0b020" stroke-width="0.8"/>
<line x1="380.00" y1="188.30" x2="380.00" y2="190.50" stroke="#e0b020" stroke-width="0.8"/>
<line x1="383.10" y1="188.30" x2="383.10" y2="190.50" stroke="#e0b020" stroke-width="0.8"/>
<line x1="385.50" y1="188.30" x2="385.50" y2="190.50" stroke="#e0b020" stroke-width="0.8"/>
<line x1="398.00" y1="188.30" x2="398.00" y2="190.50" stroke="#e0b020" stroke-width="0.8"/>
<line x1="409.20" y1="188.30" x2="409.20" y2="190.50" stroke="#e0b020" stroke-width="0.8"/>
<line x1="372.50" y1="210.10" x2="372.50" y2="212.30" stroke="#5a9ad6" stroke-width="0.8"/>
<line x1="374.00" y1="210.10" x2="374.00" y2="212.30" stroke="#5a9ad6" stroke-width="0.8"/>
<line x1="376.00" y1="210.10" x2="376.00" y2="212.30" stroke="#5a9ad6" stroke-width="0.8"/>
<line x1="378.00" y1="210.10" x2="378.00" y2="212.30" stroke="#5a9ad6" stroke-width="0.8"/>
<line x1="380.00" y1="210.10" x2="380.00" y2="212.30" stroke="#5a9ad6" stroke-width="0.8"/>
<line x1="382.00" y1="210.10" x2="382.00" y2="212.30" stroke="#5a9ad6" stroke-width="0.8"/>
<line x1="384.00" y1="210.10" x2="384.00" y2="212.30" stroke="#5a9ad6" stroke-width="0.8"/>
<line x1="386.00" y1="210.10" x2="386.00" y2="212.30" stroke="#5a9ad6" stroke-width="0.8"/>
<line x1="388.00" y1="210.10" x2="388.00" y2="212.30" stroke="#5a9ad6" stroke-width="0.8"/>
<line x1="390.00" y1="210.10" x2="390.00" y2="212.30" stroke="#5a9ad6" stroke-width="0.8"/>
<line x1="392.00" y1="210.10" x2="392.00" y2="212.30" stroke="#5a9ad6" stroke-width="0.8"/>
<line x1="398.60" y1="210.10" x2="398.60" y2="212.30" stroke="#5a9ad6" stroke-width="0.8"/>
<line x1="400.20" y1="210.10" x2="400.20" y2="212.30" stroke="#5a9ad6" stroke-width="0.8"/>
<line x1="404.30" y1="210.10" x2="404.30" y2="212.30" stroke="#5a9ad6" stroke-width="0.8"/>
<line x1="411.70" y1="210.10" x2="411.70" y2="212.30" stroke="#5a9ad6" stroke-width="0.8"/>
<line x1="413.30" y1="210.10" x2="413.30" y2="212.30" stroke="#5a9ad6" stroke-width="0.8"/>
<line x1="419.00" y1="210.10" x2="419.00" y2="212.30" stroke="#5a9ad6" stroke-width="0.8"/>
<line x1="420.70" y1="210.10" x2="420.70" y2="212.30" stroke="#5a9ad6" stroke-width="0.8"/>
<line x1="422.30" y1="210.10" x2="422.30" y2="212.30" stroke="#5a9ad6" stroke-width="0.8"/>
<line x1="424.00" y1="210.10" x2="424.00" y2="212.30" stroke="#5a9ad6" stroke-width="0.8"/>
<line x1="430.50" y1="210.10" x2="430.50" y2="212.30" stroke="#5a9ad6" stroke-width="0.8"/>
<line x1="447.60" y1="210.10" x2="447.60" y2="212.30" stroke="#5a9ad6" stroke-width="0.8"/>
<line x1="371.60" y1="223.10" x2="371.60" y2="225.30" stroke="#a01034" stroke-width="0.8"/>
<line x1="373.50" y1="223.10" x2="373.50" y2="225.30" stroke="#a01034" stroke-width="0.8"/>
<line x1="375.00" y1="223.10" x2="375.00" y2="225.30" stroke="#a01034" stroke-width="0.8"/>
<line x1="377.00" y1="223.10" x2="377.00" y2="225.30" stroke="#a01034" stroke-width="0.8"/>
<line x1="378.50" y1="223.10" x2="378.50" y2="225.30" stroke="#a01034" stroke-width="0.8"/>
<line x1="380.00" y1="223.10" x2="380.00" y2="225.30" stroke="#a01034" stroke-width="0.8"/>
<line x1="382.00" y1="223.10" x2="382.00" y2="225.30" stroke="#a01034" stroke-width="0.8"/>
<line x1="384.00" y1="223.10" x2="384.00" y2="225.30" stroke="#a01034" stroke-width="0.8"/>
<line x1="386.00" y1="223.10" x2="386.00" y2="225.30" stroke="#a01034" stroke-width="0.8"/>
<line x1="388.00" y1="223.10" x2="388.00" y2="225.30" stroke="#a01034" stroke-width="0.8"/>
<line x1="392.00" y1="223.10" x2="392.00" y2="225.30" stroke="#a01034" stroke-width="0.8"/>
<line x1="402.70" y1="223.10" x2="402.70" y2="225.30" stroke="#a01034" stroke-width="0.8"/>
<line x1="404.30" y1="223.10" x2="404.30" y2="225.30" stroke="#a01034" stroke-width="0.8"/>
<line x1="406.80" y1="223.10" x2="406.80" y2="225.30" stroke="#a01034" stroke-width="0.8"/>
<line x1="408.40" y1="223.10" x2="408.40" y2="225.30" stroke="#a01034" stroke-width="0.8"/>
<line x1="418.20" y1="223.10" x2="418.20" y2="225.30" stroke="#a01034" stroke-width="0.8"/>
<line x1="421.50" y1="223.10" x2="421.50" y2="225.30" stroke="#a01034" stroke-width="0.8"/>
<line x1="344.60" y1="243.80" x2="344.60" y2="246.00" stroke="#e08c28" stroke-width="0.8"/>
<line x1="350.80" y1="243.80" x2="350.80" y2="246.00" stroke="#e08c28" stroke-width="0.8"/>
<line x1="352.30" y1="243.80" x2="352.30" y2="246.00" stroke="#e08c28" stroke-width="0.8"/>
<line x1="356.90" y1="243.80" x2="356.90" y2="246.00" stroke="#e08c28" stroke-width="0.8"/>
<line x1="357.80" y1="243.80" x2="357.80" y2="246.00" stroke="#e08c28" stroke-width="0.8"/>
<line x1="360.00" y1="243.80" x2="360.00" y2="246.00" stroke="#e08c28" stroke-width="0.8"/>
<line x1="362.50" y1="243.80" x2="362.50" y2="246.00" stroke="#e08c28" stroke-width="0.8"/>
<line x1="365.60" y1="243.80" x2="365.60" y2="246.00" stroke="#e08c28" stroke-width="0.8"/>
<line x1="378.10" y1="243.80" x2="378.10" y2="246.00" stroke="#e08c28" stroke-width="0.8"/>
<line x1="400.80" y1="243.80" x2="400.80" y2="246.00" stroke="#e08c28" stroke-width="0.8"/>
<line x1="335.40" y1="235.90" x2="335.40" y2="238.10" stroke="#4e9e36" stroke-width="0.8"/>
<line x1="341.50" y1="235.90" x2="341.50" y2="238.10" stroke="#4e9e36" stroke-width="0.8"/>
<line x1="361.50" y1="252.40" x2="361.50" y2="254.60" stroke="#4e9e36" stroke-width="0.8"/>
<line x1="381.50" y1="255.70" x2="381.50" y2="257.90" stroke="#4e9e36" stroke-width="0.8"/>
<line x1="395.40" y1="255.70" x2="395.40" y2="257.90" stroke="#4e9e36" stroke-width="0.8"/>
<line x1="397.00" y1="255.70" x2="397.00" y2="257.90" stroke="#4e9e36" stroke-width="0.8"/>
<line x1="403.50" y1="255.70" x2="403.50" y2="257.90" stroke="#4e9e36" stroke-width="0.8"/>
<line x1="419.00" y1="255.70" x2="419.00" y2="257.90" stroke="#4e9e36" stroke-width="0.8"/>
<line x1="422.50" y1="255.70" x2="422.50" y2="257.90" stroke="#4e9e36" stroke-width="0.8"/>
<text x="448.50" y="186.65" font-size="7.0" textLength="40.88" lengthAdjust="spacingAndGlyphs">Low-dFLC PR:</text>
<text x="448.59" y="193.90" font-size="7.0" textLength="34.53" lengthAdjust="spacingAndGlyphs">median TNT</text>
<text x="448.57" y="201.00" font-size="7.0" textLength="34.67" lengthAdjust="spacingAndGlyphs">not reached</text>
<text x="451.48" y="210.10" font-size="7.0" textLength="47.74" lengthAdjust="spacingAndGlyphs">CR: median TNT</text>
<text x="451.37" y="217.50" font-size="7.0" textLength="34.77" lengthAdjust="spacingAndGlyphs">not reached</text>
<text x="458.07" y="226.90" font-size="7.0" textLength="54.98" lengthAdjust="spacingAndGlyphs">VGPR: median TNT</text>
<text x="457.68" y="234.00" font-size="7.0" textLength="34.46" lengthAdjust="spacingAndGlyphs">not reached</text>
<text x="404.99" y="246.70" font-size="7.0" textLength="78.62" lengthAdjust="spacingAndGlyphs">PR: median TNT 17 months</text>
<text x="428.09" y="259.60" font-size="7.0" textLength="41.71" lengthAdjust="spacingAndGlyphs">Non-response:</text>
<text x="428.18" y="266.90" font-size="7.0" textLength="44.79" lengthAdjust="spacingAndGlyphs">median TNT 13</text>
<text x="428.16" y="274.30" font-size="7.0" textLength="22.27" lengthAdjust="spacingAndGlyphs">months</text>
<rect x="0.5" y="0.5" width="519" height="319" fill="none" stroke="#000" stroke-width="1"/>
</svg>
</body></html>
